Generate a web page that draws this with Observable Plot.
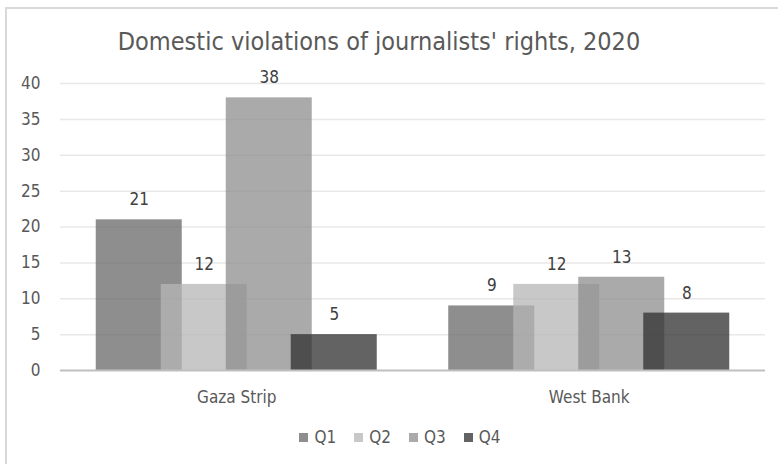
<!DOCTYPE html>
<html>
<head>
<meta charset="utf-8">
<script src="https://cdn.jsdelivr.net/npm/d3@7"></script>
<script src="https://cdn.jsdelivr.net/npm/@observablehq/plot@0.6"></script>
<style>
  html, body { margin: 0; padding: 0; background: #fff; }
  #wrap { position: relative; width: 778px; height: 464px; overflow: hidden; font-family: "Liberation Sans Narrow", "DejaVu Sans Condensed", sans-serif; }
  #border { position: absolute; left: 5px; top: 7px; width: 820px; height: 520px; border: 2px solid #d9d9d9; box-sizing: border-box; }
  #chart { position: absolute; left: 0; top: 0; }
  #legend { position: absolute; top: 427px; left: 0; width: 778px; display: flex; justify-content: center; font-size: 17px; color: #595959; padding-left: 22px; box-sizing: border-box; }
  .item { display: flex; align-items: center; margin: 0 9px; }
  .sw { width: 9px; height: 9px; margin-right: 6px; }
</style>
</head>
<body>
<div id="wrap">
  <div id="border"></div>
  <div id="chart"></div>
  <div id="legend"></div>
</div>
<script>
const title = "Domestic violations of journalists' rights, 2020";
const regions = ["Gaza Strip", "West Bank"];
const quarters = ["Q1", "Q2", "Q3", "Q4"];
const q1 = [21, 9];
const q2 = [12, 12];
const q3 = [38, 13];
const q4 = [5, 8];
const yTicks = [0, 5, 10, 15, 20, 25, 30, 35, 40];
const baseColors = ["#686868", "#b6b6b6", "#8e8e8e", "#2f2f2f"];
const legendColors = ["#8e8e8e", "#c8c8c8", "#aaaaaa", "#636363"];

const series = [q1, q2, q3, q4];
const rows = [];
regions.forEach((r, gi) => {
  quarters.forEach((q, qi) => {
    rows.push({ region: r, quarter: q, value: series[qi][gi], gi, qi });
  });
});

const step = 0.1844;   // offset between overlapping bars (in group units)
const bw = 0.244;      // bar width (in group units)
const cx = d => d.gi + 0.5 + (d.qi - 1.5) * step;

const font = '"Liberation Sans Narrow", "DejaVu Sans Condensed", sans-serif';

const chart = Plot.plot({
  width: 778,
  height: 464,
  marginLeft: 60,
  marginRight: 13,
  marginTop: 83,
  marginBottom: 94,
  style: { fontFamily: font, background: "transparent", color: "#595959", overflow: "visible" },
  x: { type: "linear", domain: [0, regions.length], axis: null },
  y: { domain: [0, 40], ticks: yTicks, label: null, tickSize: 0, tickPadding: 20, tickFormat: d => String(d) },
  color: { domain: quarters, range: baseColors },
  marks: [
    Plot.ruleY(yTicks.filter(t => t > 0), { stroke: "#e8e8e8", strokeWidth: 1.5 }),
    Plot.rectY(rows, { x1: d => cx(d) - bw / 2, x2: d => cx(d) + bw / 2, y: "value", fill: "quarter", fillOpacity: 0.75 }),
    Plot.ruleY([0], { stroke: "#bfbfbf", strokeWidth: 2 }),
    Plot.text(rows, { x: cx, y: "value", text: d => String(d.value), dy: -20, fill: "#404040", fontSize: 17 }),
    Plot.text(regions, { x: (d, i) => i + 0.5, y: () => 0, text: d => d, dy: 27, fill: "#595959", fontSize: 17 }),
    Plot.text([title], { frameAnchor: "top", dx: -34, dy: -51, fill: "#595959", fontSize: 25, fontWeight: 300 }),
    Plot.axisY({ ticks: yTicks, tickSize: 0, tickPadding: 20, fontSize: 17, fill: "#595959", label: null })
  ]
});
document.getElementById("chart").appendChild(chart);

const legend = document.getElementById("legend");
quarters.forEach((q, i) => {
  const it = document.createElement("div");
  it.className = "item";
  const sw = document.createElement("div");
  sw.className = "sw";
  sw.style.background = legendColors[i];
  const t = document.createElement("span");
  t.textContent = q;
  it.appendChild(sw);
  it.appendChild(t);
  legend.appendChild(it);
});
</script>
</body>
</html>
